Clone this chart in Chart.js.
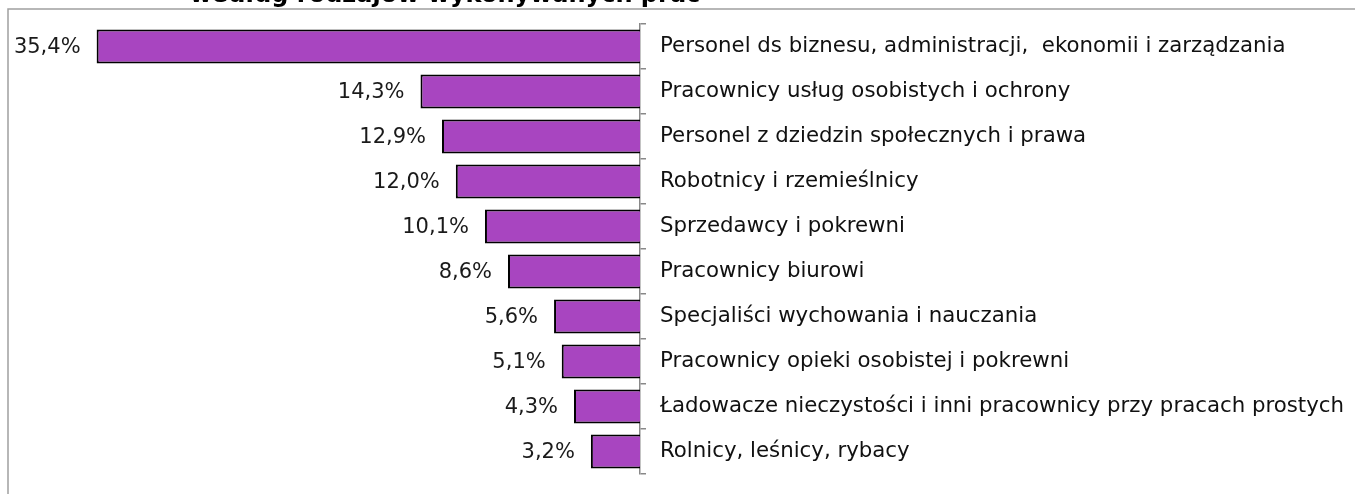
<!DOCTYPE html>
<html>
<head>
<meta charset="utf-8">
<script src="https://cdn.jsdelivr.net/npm/chart.js@4.4.0/dist/chart.umd.min.js"></script>
<style>
  html, body { margin: 0; padding: 0; background: #fff; }
  #wrap { position: relative; width: 1355px; height: 494px; }
</style>
</head>
<body>
<div id="wrap"><canvas id="chart"></canvas></div>
<script>
// occupations (top to bottom) and their share in %
const categories = [
    "Personel ds biznesu, administracji,  ekonomii i zarządzania",
    "Pracownicy usług osobistych i ochrony",
    "Personel z dziedzin społecznych i prawa",
    "Robotnicy i rzemieślnicy",
    "Sprzedawcy i pokrewni",
    "Pracownicy biurowi",
    "Specjaliści wychowania i nauczania",
    "Pracownicy opieki osobistej i pokrewni",
    "Ładowacze nieczystości i inni pracownicy przy pracach prostych",
    "Rolnicy, leśnicy, rybacy"
];
const shares = [35.4, 14.3, 12.9, 12.0, 10.1, 8.6, 5.6, 5.1, 4.3, 3.2];
const titleText = "według rodzajów wykonywanych prac";

const FONT = "'DejaVu Sans', Verdana, sans-serif";
const AXIS_X = 640;

// frame + clipped title at the top
const framePlugin = {
    id: "frame",
    beforeDraw(chart) {
        const ctx = chart.ctx;
        ctx.save();
        ctx.strokeStyle = "#a0a0a0";
        ctx.lineWidth = 1.5;
        ctx.beginPath();
        ctx.moveTo(8, chart.height + 2);
        ctx.lineTo(8, 9);
        ctx.lineTo(chart.width + 2, 9);
        ctx.stroke();
        ctx.fillStyle = "#000";
        ctx.font = "bold 24px " + FONT;
        ctx.textAlign = "center";
        ctx.textBaseline = "alphabetic";
        ctx.fillText(titleText, 445, 2);
        ctx.restore();
    }
};

// percentage labels left of each bar
const valueLabels = {
    id: "valueLabels",
    afterDatasetsDraw(chart) {
        const ctx = chart.ctx;
        const meta = chart.getDatasetMeta(0);
        ctx.save();
        ctx.font = "21px " + FONT;
        ctx.fillStyle = "#1a1a1a";
        ctx.textAlign = "right";
        ctx.textBaseline = "middle";
        meta.data.forEach((bar, i) => {
            const txt = shares[i].toFixed(1).replace(".", ",") + "%";
            ctx.fillText(txt, bar.x - 16, bar.y + 1);
        });
        ctx.restore();
    }
};

new Chart(document.getElementById("chart"), {
    type: "bar",
    data: {
        labels: categories,
        datasets: [{
            data: shares,
            backgroundColor: "#a845c0",
            borderColor: "#000",
            borderWidth: 2,
            borderSkipped: "start",
            barPercentage: 0.76,
            categoryPercentage: 1
        }]
    },
    options: {
        indexAxis: "y",
        responsive: true,
        maintainAspectRatio: false,
        animation: false,
        layout: { padding: { left: 26, right: 0, top: 24, bottom: 20 } },
        plugins: {
            legend: { display: false },
            tooltip: { enabled: false },
            title: { display: false }
        },
        scales: {
            x: {
                display: false,
                reverse: true,
                min: 0,
                max: 40
            },
            y: {
                position: "right",
                offset: true,
                grid: {
                    offset: true,
                    drawOnChartArea: false,
                    drawTicks: true,
                    tickLength: 6,
                    color: "#888",
                    lineWidth: 1.5
                },
                border: { display: true, color: "#888", width: 1.5 },
                ticks: {
                    padding: 14,
                    color: "#111",
                    font: { family: FONT, size: 21.3 }
                },
                afterFit(axis) {
                    axis.width = 1355 - AXIS_X;
                    // keep label half-heights from shrinking the plot area
                    axis.paddingTop = 0;
                    axis.paddingBottom = 0;
                }
            }
        }
    },
    plugins: [framePlugin, valueLabels]
});
</script>
</body>
</html>
